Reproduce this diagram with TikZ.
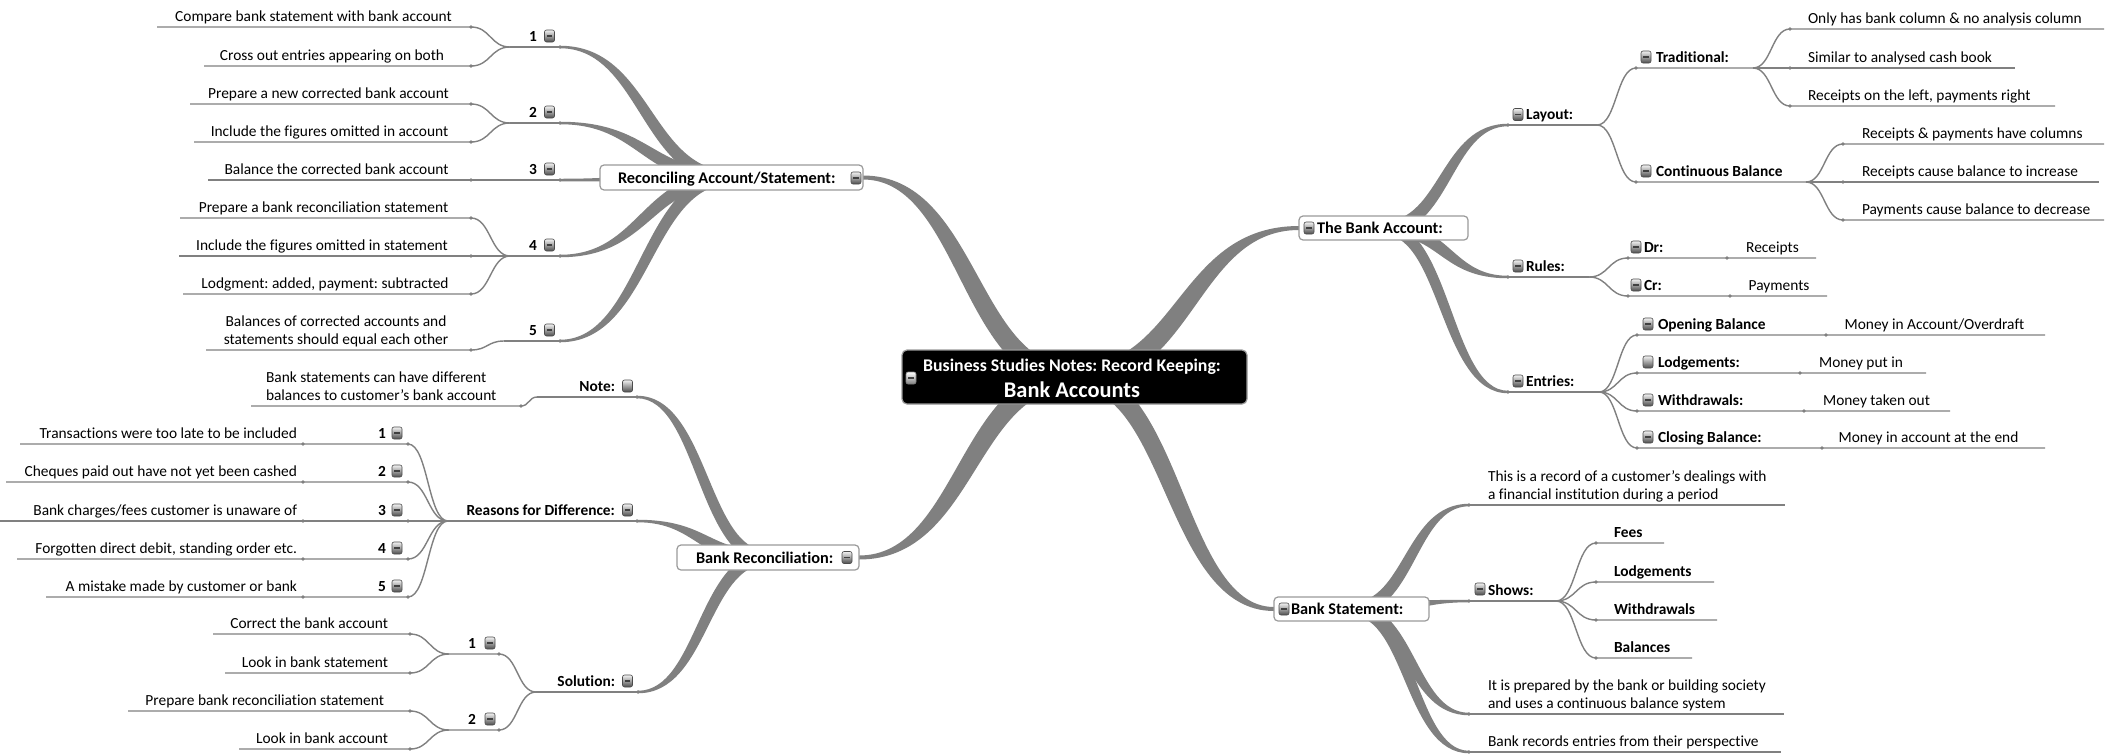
\documentclass[tikz,border=0pt]{standalone}
\usepackage{fontspec}
\setmainfont{Carlito}[Ligatures=NoCommon]
\usetikzlibrary{calc,backgrounds}
\definecolor{lc}{HTML}{808080}
\definecolor{bxc}{HTML}{9A9A9A}
\newcommand\fleaf{\fontsize{15.4}{18}\selectfont}
\newcommand\fsub{\bfseries\fontsize{15.4}{18}\selectfont}
\newcommand\fmain{\bfseries\fontsize{16.3}{19}\selectfont}
\newcommand\ftitle{\bfseries\fontsize{17.8}{21}\selectfont}
\newcommand\fbig{\bfseries\fontsize{22.4}{26}\selectfont}
\newcommand\twol[2]{\begin{tabular}[t]{@{}l@{}}#1\\#2\end{tabular}}
\newcommand\twoc[2]{\begin{tabular}[t]{@{}c@{}}#1\\#2\end{tabular}}
% tapered branch between two named points: from, to, start width, end width
\newcommand\mmbr[4]{%
  \path (#1); \pgfgetlastxy\mmxa\mmya
  \path (#2); \pgfgetlastxy\mmxb\mmyb
  \pgfmathsetmacro\mmXa{\mmxa}\pgfmathsetmacro\mmYa{\mmya}%
  \pgfmathsetmacro\mmXb{\mmxb}\pgfmathsetmacro\mmYb{\mmyb}%
  \pgfmathsetmacro\mmdx{\mmXb-\mmXa}%
  \pgfmathsetmacro\mmdy{\mmYb-\mmYa}%
  \pgfmathsetmacro\mmsg{((\mmdx>0)==(\mmdy>0))?-1:1}%
  \pgfmathsetmacro\mmoa{\mmsg*(#3+#4)/3}%
  \pgfmathsetmacro\mmCap{\mmXa+0.5*\mmdx+\mmoa}%
  \pgfmathsetmacro\mmCam{\mmXa+0.5*\mmdx-\mmoa}%
  \pgfmathsetmacro\mmCbp{\mmXb-0.5*\mmdx+\mmoa}%
  \pgfmathsetmacro\mmCbm{\mmXb-0.5*\mmdx-\mmoa}%
  \pgfmathsetmacro\mmYap{\mmYa+#3/2}\pgfmathsetmacro\mmYam{\mmYa-#3/2}%
  \pgfmathsetmacro\mmYbp{\mmYb+#4/2}\pgfmathsetmacro\mmYbm{\mmYb-#4/2}%
  \fill[lc] (\mmXa pt,\mmYap pt) .. controls (\mmCap pt,\mmYap pt) and (\mmCbp pt,\mmYbp pt) .. (\mmXb pt,\mmYbp pt)
     -- (\mmXb pt,\mmYbm pt) .. controls (\mmCbm pt,\mmYbm pt) and (\mmCam pt,\mmYam pt) .. (\mmXa pt,\mmYam pt) -- cycle;
}
\tikzset{
  every node/.style={inner sep=0pt, outer sep=0pt},
  lf/.style={font=\fleaf, anchor=base},
  lfw/.style={font=\fleaf, anchor=base west},
  lfe/.style={font=\fleaf, anchor=base east},
  sb/.style={font=\fsub, anchor=base west},
  sbe/.style={font=\fsub, anchor=base east},
  mt/.style={font=\fmain, anchor=base west},
  mmbox/.style={draw=bxc, fill=white, rounded corners=4pt, line width=1.2pt},
  mmicp/.style={minimum width=10pt, minimum height=12pt, rounded corners=2pt, draw=black!70, line width=0.6pt,
     top color=gray!10, bottom color=black!70},
  mmic/.style={mmicp,
     path picture={\draw[black!75,line width=1.1pt] ([xshift=2.2pt]path picture bounding box.west) -- ([xshift=-2.2pt]path picture bounding box.east);}},
  cline/.style={draw=lc, line width=1.4pt},
  scurve/.style={to path={let \p1=(\tikztostart), \p2=(\tikztotarget) in .. controls ({0.5*\x1+0.5*\x2},\y1) and ({0.5*\x1+0.5*\x2},\y2) .. (\tikztotarget)}}
}
\begin{document}
\frenchspacing
\begin{tikzpicture}[x=1pt,y=-1pt]
\useasboundingbox (0,0) rectangle (2119,753);

% ---------- anchor coordinates ----------
\coordinate (r1) at (560,47);  \coordinate (j1) at (510,47);
\coordinate (a1) at (471,27);  \coordinate (a1o) at (157,27);
\coordinate (b1) at (471,66);  \coordinate (b1o) at (204,66);
\coordinate (r2) at (560,123); \coordinate (j2) at (510,123);
\coordinate (c1) at (471,104); \coordinate (c1o) at (190,104);
\coordinate (d1) at (471,142); \coordinate (d1o) at (194,142);
\coordinate (r3) at (560,180); \coordinate (e1) at (471,180); \coordinate (e1o) at (208,180);
\coordinate (r4) at (560,256); \coordinate (j4) at (510,256);
\coordinate (f1) at (471,218); \coordinate (f1o) at (180,218);
\coordinate (g1) at (471,256); \coordinate (g1o) at (179,256);
\coordinate (h1) at (471,294); \coordinate (h1o) at (183,294);
\coordinate (r5) at (560,341); \coordinate (j5) at (504,341);
\coordinate (i1) at (471,350); \coordinate (i1o) at (206,350);

\coordinate (nt) at (637,397); \coordinate (ntj) at (537,397);
\coordinate (n1) at (521,406); \coordinate (n1o) at (251,406);
\coordinate (rs) at (637,521); \coordinate (rsj) at (448,521);
\coordinate (q1) at (408,444); \coordinate (q1m) at (303,444); \coordinate (q1o) at (20,444);
\coordinate (q2) at (408,482); \coordinate (q2m) at (303,482); \coordinate (q2o) at (6,482);
\coordinate (q3) at (408,521); \coordinate (q3m) at (303,521); \coordinate (q3o) at (0,521);
\coordinate (q4) at (408,559); \coordinate (q4m) at (303,559); \coordinate (q4o) at (17,559);
\coordinate (q5) at (408,597); \coordinate (q5m) at (303,597); \coordinate (q5o) at (46,597);
\coordinate (so) at (638,692); \coordinate (soj) at (536,692);
\coordinate (s1) at (499,654); \coordinate (s1j) at (449,654);
\coordinate (u1) at (410,634); \coordinate (u1o) at (213,634);
\coordinate (u2) at (410,673); \coordinate (u2o) at (225,673);
\coordinate (s2) at (499,730); \coordinate (s2j) at (449,730);
\coordinate (u3) at (410,711); \coordinate (u3o) at (128,711);
\coordinate (u4) at (410,749); \coordinate (u4o) at (239,749);

\coordinate (ly) at (1508,125); \coordinate (lyj) at (1597,125);
\coordinate (tr) at (1636,68);  \coordinate (trj) at (1753,68);
\coordinate (t1) at (1790,29);  \coordinate (t1o) at (2104,29);
\coordinate (t2) at (1790,68);  \coordinate (t2o) at (2015,68);
\coordinate (t3) at (1790,106); \coordinate (t3o) at (2055,106);
\coordinate (cb) at (1636,182); \coordinate (cbj) at (1806,182);
\coordinate (k1) at (1843,144); \coordinate (k1o) at (2104,144);
\coordinate (k2) at (1843,182); \coordinate (k2o) at (2099,182);
\coordinate (k3) at (1843,220); \coordinate (k3o) at (2104,220);
\coordinate (ru) at (1508,277); \coordinate (ruj) at (1589,277);
\coordinate (dr) at (1628,258); \coordinate (drm) at (1727,258); \coordinate (dro) at (1816,258);
\coordinate (cr) at (1628,296); \coordinate (crm) at (1730,296); \coordinate (cro) at (1827,296);
\coordinate (en) at (1508,392); \coordinate (enj) at (1599,392);
\coordinate (ob) at (1637,335); \coordinate (obm) at (1826,335); \coordinate (obo) at (2045,335);
\coordinate (lg) at (1637,373); \coordinate (lgm) at (1800,373); \coordinate (lgo) at (1926,373);
\coordinate (wd) at (1637,411); \coordinate (wdm) at (1804,411); \coordinate (wdo) at (1950,411);
\coordinate (cl) at (1637,448); \coordinate (clm) at (1822,448); \coordinate (clo) at (2045,448);

\coordinate (x1) at (1469,505); \coordinate (x1o) at (1785,505);
\coordinate (sh) at (1469,601); \coordinate (shj) at (1556,601);
\coordinate (fe) at (1596,543); \coordinate (feo) at (1664,543);
\coordinate (lo) at (1596,582); \coordinate (loo) at (1714,582);
\coordinate (wi) at (1596,620); \coordinate (wio) at (1717,620);
\coordinate (ba) at (1596,658); \coordinate (bao) at (1692,658);
\coordinate (x2) at (1469,714); \coordinate (x2o) at (1784,714);
\coordinate (x3) at (1469,752); \coordinate (x3o) at (1781,752);

% ---------- main boxes ----------
\node[mmbox, fill=black, rounded corners=5pt, minimum width=345pt, minimum height=54pt] (C) at (1074.5,377) {};
\node[mmbox, minimum width=263pt, minimum height=25pt] (R) at (731.5,177.5) {};
\node[mmbox, minimum width=182pt, minimum height=25pt] (BR) at (768,557.5) {};
\node[mmbox, minimum width=169pt, minimum height=24pt] (BA) at (1383.5,228) {};
\node[mmbox, minimum width=155pt, minimum height=24pt] (BS) at (1351.5,609) {};

% ---------- tapered branches ----------
\begin{pgfonlayer}{background}
\fill[white] (0,0) rectangle (2119,753);
\mmbr{C}{R.east}{21}{4}
\mmbr{C}{BR.east}{21}{4}
\mmbr{C}{BA.west}{21}{4}
\mmbr{C}{BS.west}{21}{4}
\mmbr{R}{r1}{13}{2.5}
\mmbr{R}{r2}{13}{2.5}
\mmbr{R}{r3}{13}{2.5}
\mmbr{R}{r4}{13}{2.5}
\mmbr{R}{r5}{13}{2.5}
\mmbr{BR}{nt}{13}{2.5}
\mmbr{BR}{rs}{13}{2.5}
\mmbr{BR}{so}{13}{2.5}
\mmbr{BA}{ly}{13}{2.5}
\mmbr{BA}{ru}{13}{2.5}
\mmbr{BA}{en}{13}{2.5}
\mmbr{BS}{x1}{13}{2.5}
\mmbr{BS}{sh}{13}{2.5}
\mmbr{BS}{x2}{13}{2.5}
\mmbr{BS}{x3}{13}{2.5}
\end{pgfonlayer}

% ---------- thin connectors ----------
\draw[cline] (r1) -- (j1);
\draw[cline] (j1) to[scurve] (a1) -- (a1o);
\draw[cline] (j1) to[scurve] (b1) -- (b1o);
\draw[cline] (r2) -- (j2);
\draw[cline] (j2) to[scurve] (c1) -- (c1o);
\draw[cline] (j2) to[scurve] (d1) -- (d1o);
\draw[cline] (r3) -- (e1) -- (e1o);
\draw[cline] (r4) -- (j4);
\draw[cline] (j4) to[scurve] (f1) -- (f1o);
\draw[cline] (j4) -- (g1) -- (g1o);
\draw[cline] (j4) to[scurve] (h1) -- (h1o);
\draw[cline] (r5) -- (j5);
\draw[cline] (j5) to[scurve] (i1) -- (i1o);

\draw[cline] (nt) -- (ntj);
\draw[cline] (ntj) to[scurve] (n1) -- (n1o);
\draw[cline] (rs) -- (rsj);
\draw[cline] (rsj) to[scurve] (q1) -- (q1m) -- (q1o);
\draw[cline] (rsj) to[scurve] (q2) -- (q2m) -- (q2o);
\draw[cline] (rsj) -- (q3) -- (q3m) -- (q3o);
\draw[cline] (rsj) to[scurve] (q4) -- (q4m) -- (q4o);
\draw[cline] (rsj) to[scurve] (q5) -- (q5m) -- (q5o);
\draw[cline] (so) -- (soj);
\draw[cline] (soj) to[scurve] (s1) -- (s1j);
\draw[cline] (soj) to[scurve] (s2) -- (s2j);
\draw[cline] (s1j) to[scurve] (u1) -- (u1o);
\draw[cline] (s1j) to[scurve] (u2) -- (u2o);
\draw[cline] (s2j) to[scurve] (u3) -- (u3o);
\draw[cline] (s2j) to[scurve] (u4) -- (u4o);

\draw[cline] (ly) -- (lyj);
\draw[cline] (lyj) to[scurve] (tr) -- (trj);
\draw[cline] (trj) to[scurve] (t1) -- (t1o);
\draw[cline] (trj) -- (t2) -- (t2o);
\draw[cline] (trj) to[scurve] (t3) -- (t3o);
\draw[cline] (lyj) to[scurve] (cb) -- (cbj);
\draw[cline] (cbj) to[scurve] (k1) -- (k1o);
\draw[cline] (cbj) -- (k2) -- (k2o);
\draw[cline] (cbj) to[scurve] (k3) -- (k3o);
\draw[cline] (ru) -- (ruj);
\draw[cline] (ruj) to[scurve] (dr) -- (drm) -- (dro);
\draw[cline] (ruj) to[scurve] (cr) -- (crm) -- (cro);
\draw[cline] (en) -- (enj);
\draw[cline] (enj) to[scurve] (ob) -- (obm) -- (obo);
\draw[cline] (enj) to[scurve] (lg) -- (lgm) -- (lgo);
\draw[cline] (enj) to[scurve] (wd) -- (wdm) -- (wdo);
\draw[cline] (enj) to[scurve] (cl) -- (clm) -- (clo);

\draw[cline] (x1) -- (x1o);
\draw[cline] (sh) -- (shj);
\draw[cline] (shj) to[scurve] (fe) -- (feo);
\draw[cline] (shj) to[scurve] (lo) -- (loo);
\draw[cline] (shj) to[scurve] (wi) -- (wio);
\draw[cline] (shj) to[scurve] (ba) -- (bao);
\draw[cline] (x2) -- (x2o);
\draw[cline] (x3) -- (x3o);

\foreach \p in {r1,r2,r3,r4,r5,a1,b1,c1,d1,e1,f1,g1,h1,i1,nt,n1,rs,q1,q2,q3,q4,q5,q1m,q2m,q3m,q4m,q5m,
  so,s1,s2,u1,u2,u3,u4,ly,tr,cb,t1,t2,t3,k1,k2,k3,ru,dr,cr,drm,crm,en,ob,lg,wd,cl,obm,lgm,wdm,clm,
  x1,sh,fe,lo,wi,ba,x2,x3}
  \fill[lc] (\p) circle (1.8pt);

% ---------- central & main texts ----------
\node[mmic, draw=gray, top color=white, bottom color=gray] (iC) at (911,378) {};
\node[anchor=base, text=white] (Ct) at (1072,371.5) {\ftitle\begin{tabular}[t]{@{}c@{}}Business Studies Notes: Record Keeping:\\[4pt]\fbig Bank Accounts\end{tabular}};

\node[mt] (Rt) at (618,183.5) {Reconciling Account/Statement:};
\node[mmic] (iR) at (856,178) {};
\node[mt] (BRt) at (696,563) {Bank Reconciliation:};
\node[mmic] (iBR) at (847,557.5) {};
\node[mmic] (iBA) at (1309,228) {};
\node[mt] (BAt) at (1317,233.5) {The Bank Account:};
\node[mmic] (iBS) at (1284,609) {};
\node[mt] (BSt) at (1291,614.5) {Bank Statement:};

% ---------- reconciling account/statement ----------
\node[sbe] (l1) at (537,41) {1};  \node[mmic] (il1) at (549.5,36) {};
\node[sbe] (l2) at (537,117) {2}; \node[mmic] (il2) at (549.5,112) {};
\node[sbe] (l3) at (537,174) {3}; \node[mmic] (il3) at (549.5,169) {};
\node[sbe] (l4) at (537,250) {4}; \node[mmic] (il4) at (549.5,245) {};
\node[sbe] (l5) at (537,335) {5}; \node[mmic] (il5) at (549.5,330) {};
\node[lf] (ta) at (313.5,21) {Compare bank statement with bank account};
\node[lf] (tb) at (332,60) {Cross out entries appearing on both};
\node[lf] (tc) at (328.5,98) {Prepare a new corrected bank account};
\node[lf] (td) at (329.5,136) {Include the figures omitted in account};
\node[lf] (te) at (336.5,174) {Balance the corrected bank account};
\node[lf] (tf) at (323.5,212) {Prepare a bank reconciliation statement};
\node[lf] (tg) at (322,250) {Include the figures omitted in statement};
\node[lf] (th) at (325,288) {Lodgment: added, payment: subtracted};
\node[lf] (ti) at (336,326) {\twoc{Balances of corrected accounts and}{statements should equal each other}};

% ---------- bank reconciliation ----------
\node[sbe] (tnt) at (615,391) {Note:}; \node[mmicp] (int) at (627.5,386) {};
\node[lfw] (tn1) at (266,382) {\twol{Bank statements can have different}{balances to customer's bank account}};
\node[sbe] (trs) at (615,515) {Reasons for Difference:}; \node[mmic] (irs) at (627.5,510) {};
\node[sbe] (lq1) at (386,438) {1}; \node[mmic] (iq1) at (397,433) {};
\node[sbe] (lq2) at (386,476) {2}; \node[mmic] (iq2) at (397,471) {};
\node[sbe] (lq3) at (386,515) {3}; \node[mmic] (iq3) at (397,510) {};
\node[sbe] (lq4) at (386,553) {4}; \node[mmic] (iq4) at (397,548) {};
\node[sbe] (lq5) at (386,591) {5}; \node[mmic] (iq5) at (397,586) {};
\node[lfe] (tq1) at (297,438) {Transactions were too late to be included};
\node[lfe] (tq2) at (297,476) {Cheques paid out have not yet been cashed};
\node[lfe] (tq3) at (297,515) {Bank charges/fees customer is unaware of};
\node[lfe] (tq4) at (297,553) {Forgotten direct debit, standing order etc.};
\node[lfe] (tq5) at (297,591) {A mistake made by customer or bank};
\node[sbe] (tso) at (615,686) {Solution:}; \node[mmic] (iso) at (627.5,681) {};
\node[sbe] (ls1) at (476,648) {1}; \node[mmic] (is1) at (490,643) {};
\node[sbe] (ls2) at (476,724) {2}; \node[mmic] (is2) at (490,719) {};
\node[lfe] (tu1) at (388,628) {Correct the bank account};
\node[lfe] (tu2) at (388,667) {Look in bank statement};
\node[lfe] (tu3) at (384,705) {Prepare bank reconciliation statement};
\node[lfe] (tu4) at (388,743) {Look in bank account};

% ---------- the bank account ----------
\node[mmic] (ily) at (1518,114.5) {}; \node[sb] (tly) at (1526,119) {Layout:};
\node[mmic] (itr) at (1646,57) {};    \node[sb] (ttr) at (1656,62) {Traditional:};
\node[lfw] (tt1) at (1808,23) {Only has bank column \& no analysis column};
\node[lfw] (tt2) at (1808,62) {Similar to analysed cash book};
\node[lfw] (tt3) at (1808,100) {Receipts on the left, payments right};
\node[mmic] (icb) at (1646,171) {};   \node[sb] (tcb) at (1656,176) {Continuous Balance};
\node[lfw] (tk1) at (1862,138) {Receipts \& payments have columns};
\node[lfw] (tk2) at (1862,176) {Receipts cause balance to increase};
\node[lfw] (tk3) at (1862,214) {Payments cause balance to decrease};
\node[mmic] (iru) at (1518,266) {};   \node[sb] (tru) at (1526,271) {Rules:};
\node[mmic] (idr) at (1636,247) {};   \node[sb] (tdr) at (1644,252) {Dr:};
\node[lf] (tdro) at (1772.5,252) {Receipts};
\node[mmic] (icr) at (1636,285) {};   \node[sb] (tcr) at (1644,290) {Cr:};
\node[lf] (tcro) at (1779,290) {Payments};
\node[mmic] (ien) at (1518,381) {};   \node[sb] (ten) at (1526,386) {Entries:};
\node[mmic] (iob) at (1648,324) {};   \node[sb] (tob) at (1658,329) {Opening Balance};
\node[lf] (tobo) at (1934.5,329) {Money in Account/Overdraft};
\node[mmicp] (ilg) at (1648,362) {};  \node[sb] (tlg) at (1658,367) {Lodgements:};
\node[lf] (tlgo) at (1861,367) {Money put in};
\node[mmic] (iwd) at (1648,400) {};   \node[sb] (twd) at (1658,405) {Withdrawals:};
\node[lf] (twdo) at (1876.5,405) {Money taken out};
\node[mmic] (icl) at (1648,437) {};   \node[sb] (tcl) at (1658,442) {Closing Balance:};
\node[lf] (tclo) at (1928.5,442) {Money in account at the end};

% ---------- bank statement ----------
\node[lfw] (tx1) at (1488,481) {\twol{This is a record of a customer's dealings with}{a financial institution during a period}};
\node[mmic] (ish) at (1480,589) {};   \node[sb] (tsh) at (1488,595) {Shows:};
\node[sb] (tfe) at (1614,537) {Fees};
\node[sb] (tlo) at (1614,576) {Lodgements};
\node[sb] (twi) at (1614,614) {Withdrawals};
\node[sb] (tba) at (1614,652) {Balances};
\node[lfw] (tx2) at (1488,690) {\twol{It is prepared by the bank or building society}{and uses a continuous balance system}};
\node[lfw] (tx3) at (1488,746) {Bank records entries from their perspective};
\end{tikzpicture}
\end{document}
